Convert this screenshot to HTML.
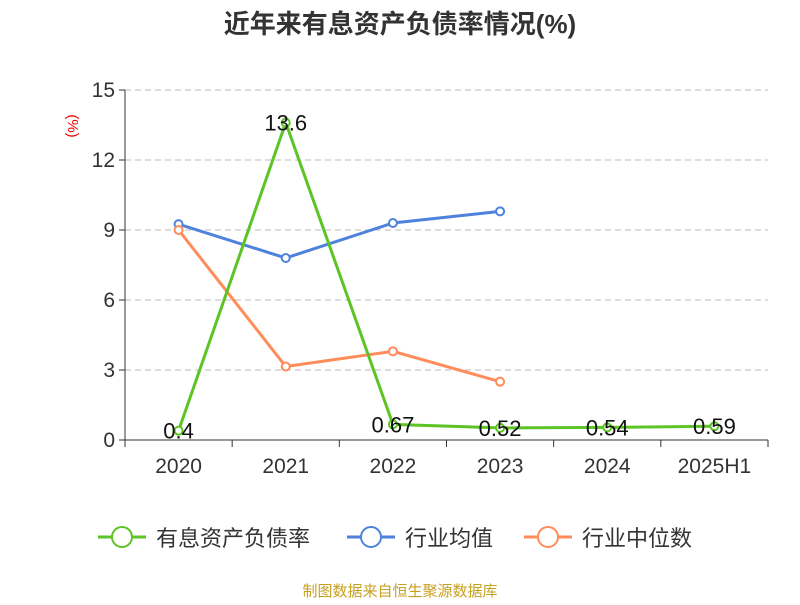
<!DOCTYPE html>
<html><head><meta charset="utf-8"><style>
body{margin:0;background:#fff;font-family:"Liberation Sans","Noto Sans CJK SC",sans-serif;}
</style></head><body>
<svg id="c" width="800" height="600" xmlns="http://www.w3.org/2000/svg" font-family="Liberation Sans, Noto Sans CJK SC, sans-serif">
<text x="400" y="33" text-anchor="middle" font-size="26" font-weight="bold" fill="#333">近年来有息资产负债率情况(%)</text>
<text transform="translate(68,126) rotate(90)" text-anchor="middle" font-size="15" fill="#e00">(%)</text>
<g id="grid"></g><g id="axes"></g><g id="series"></g>
<g>
<g><line x1="98" y1="537" x2="146" y2="537" stroke="#5cc424" stroke-width="3"/><circle cx="122" cy="537" r="10" fill="#fff" stroke="#5cc424" stroke-width="2"/><text x="156" y="546" font-size="22" fill="#333">有息资产负债率</text></g>
<g><line x1="347" y1="537" x2="395" y2="537" stroke="#4e82dc" stroke-width="3"/><circle cx="371" cy="537" r="10" fill="#fff" stroke="#4e82dc" stroke-width="2"/><text x="405" y="546" font-size="22" fill="#333">行业均值</text></g>
<g><line x1="524" y1="537" x2="572" y2="537" stroke="#ff8c5a" stroke-width="3"/><circle cx="548" cy="537" r="10" fill="#fff" stroke="#ff8c5a" stroke-width="2"/><text x="582" y="546" font-size="22" fill="#333">行业中位数</text></g>
</g>
<text x="400" y="596" text-anchor="middle" font-size="15" fill="#c8a020">制图数据来自恒生聚源数据库</text>
</svg>
<script>
const categories=["2020","2021","2022","2023","2024","2025H1"];
const debtRatio=[0.4,13.6,0.67,0.52,0.54,0.59];
const debtLabels=["0.4","13.6","0.67","0.52","0.54","0.59"];
const industryAvg=[9.25,7.8,9.3,9.8];
const industryMedian=[9.0,3.15,3.8,2.5];
const yTicks=[0,3,6,9,12,15];
const NS="http://www.w3.org/2000/svg";
const x0=125,x1=768,y0=440,y1=90,yMax=15;
const bw=(x1-x0)/categories.length;
const xs=i=>x0+bw*(i+0.5);
const ys=v=>y0-(v/yMax)*(y0-y1);
function mk(tag,attrs,parent){const e=document.createElementNS(NS,tag);for(const k in attrs)e.setAttribute(k,attrs[k]);document.getElementById(parent).appendChild(e);return e;}
yTicks.forEach(t=>{
 if(t>0){const g=mk('line',{x1:x0,x2:x1,y1:ys(t),y2:ys(t),stroke:'#bbb','stroke-dasharray':'6,4'},'grid');
 
 }
 const tk=mk('line',{x1:x0-6,x2:x0,y1:ys(t),y2:ys(t),stroke:'#333'},'axes');
 
 
 const l=mk('text',{x:x0-10,y:ys(t)+7,'text-anchor':'end','font-size':21,fill:'#333'},'axes');l.textContent=t;
 
 
});
const ya=mk('line',{x1:x0,x2:x0,y1:y1,y2:y0,stroke:'#333'},'axes');


const xa=mk('line',{x1:x0,x2:x1,y1:y0,y2:y0,stroke:'#333'},'axes');


for(let i=0;i<=categories.length;i++){const t=mk('line',{x1:x0+bw*i,x2:x0+bw*i,y1:y0,y2:y0+7,stroke:'#333'},'axes');
 
 }
categories.forEach((c,i)=>{const l=mk('text',{x:xs(i),y:y0+33,'text-anchor':'middle','font-size':21,fill:'#333'},'axes');l.textContent=c;
 
 });
function series(vals,color,name,labels){
 const p=mk('polyline',{points:vals.map((v,i)=>xs(i)+','+ys(v)).join(' '),fill:'none',stroke:color,'stroke-width':3},'series');
 
 
 vals.forEach((v,i)=>{const c=mk('circle',{cx:xs(i),cy:ys(v),r:4,fill:'#fff',stroke:color,'stroke-width':2},'series');
  
  
  if(labels){const t=mk('text',{x:xs(i),y:ys(v)+8,'text-anchor':'middle','font-size':22,fill:'#111'},'series');t.textContent=labels[i];
   
   }
 });
}
series(industryAvg,'#4e82dc','industry-avg');
series(industryMedian,'#ff8c5a','industry-median');
series(debtRatio,'#5cc424','debt-ratio',debtLabels);
</script>
</body></html>
